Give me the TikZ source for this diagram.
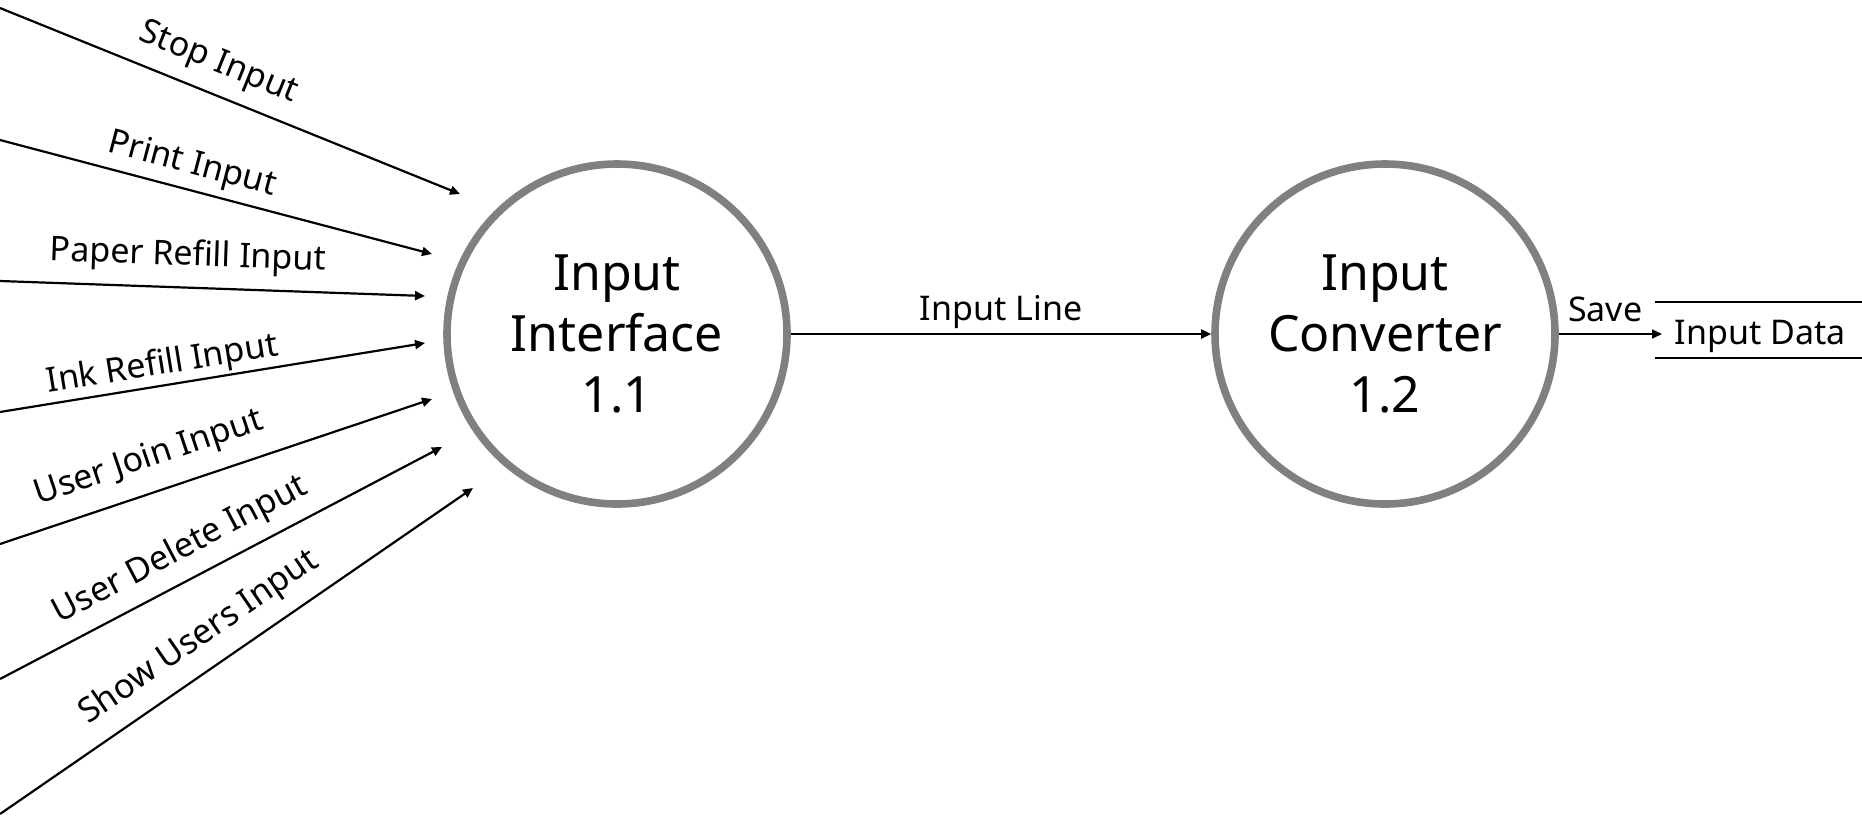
\documentclass[tikz,border=0pt]{standalone}
\usepackage{fontspec}
\setmainfont{Noto Sans}
\usetikzlibrary{arrows.meta}
\definecolor{procgray}{RGB}{128,128,128}
\begin{document}
\begin{tikzpicture}[x=0.5pt,y=-0.5pt,
  proc/.style={circle, draw=procgray, line width=3.8pt, minimum size=170pt,
    inner sep=0pt, align=center, font=\fontsize{25}{30.5}\selectfont},
  flow/.style={line width=1.1pt, -{Triangle[length=5pt,width=4.5pt]}},
  thinflow/.style={line width=0.8pt, -{Triangle[length=5pt,width=4.5pt]}},
  lab/.style={font=\fontsize{17}{20}\selectfont, sloped, inner sep=0pt},
  storeline/.style={line width=0.8pt}
]
\useasboundingbox (0,0) rectangle (1862,816);
% processes
\node[proc] (p1) at (617,334) {Input\\Interface\\1.1};
\node[proc] (p2) at (1385,334) {Input\\Converter\\1.2};
% free ends of the incoming flows
\coordinate (s1) at (0,8);   \coordinate (e1) at (460,194);
\coordinate (s2) at (0,140); \coordinate (e2) at (432,254);
\coordinate (s3) at (0,281); \coordinate (e3) at (425,296);
\coordinate (s4) at (0,412); \coordinate (e4) at (425,343);
\coordinate (s5) at (0,544); \coordinate (e5) at (432,399);
\coordinate (s6) at (0,679); \coordinate (e6) at (442,447);
\coordinate (s7) at (0,814); \coordinate (e7) at (473,488);
\draw[flow] (s1) -- node[lab, pos=.45, above=6.5pt] {Stop Input} (e1);
\draw[flow] (s2) -- node[lab, pos=.43, above=3.5pt] {Print Input} (e2);
\draw[flow] (s3) -- node[lab, pos=.44, above=6.5pt] {Paper Refill Input} (e3);
\draw[flow] (s4) -- node[lab, pos=.39, above=1pt] {Ink Refill Input} (e4);
\draw[flow] (s5) -- node[lab, pos=.37, above=8pt] {User Join Input} (e5);
\draw[flow] (s6) -- node[lab, pos=.44, above=6pt] {User Delete Input} (e6);
\draw[flow] (s7) -- node[lab, pos=.46, above=7pt] {Show Users Input} (e7);
% between processes
\draw[flow] (p1) -- node[lab, above=2pt] {Input Line} (p2);
% data store
\coordinate (st1) at (1655,302); \coordinate (st1e) at (1862,302);
\coordinate (st2) at (1655,358); \coordinate (st2e) at (1862,358);
\draw[storeline] (st1) -- (st1e);
\draw[storeline] (st2) -- (st2e);
\node[font=\fontsize{17}{20}\selectfont, anchor=base, inner sep=0pt] (store) at (1760,344) {Input Data};
\coordinate (sv) at (1662,334);
\draw[thinflow] (p2) -- node[lab, pos=.45, above=5.5pt] {Save} (sv);
\end{tikzpicture}
\end{document}
